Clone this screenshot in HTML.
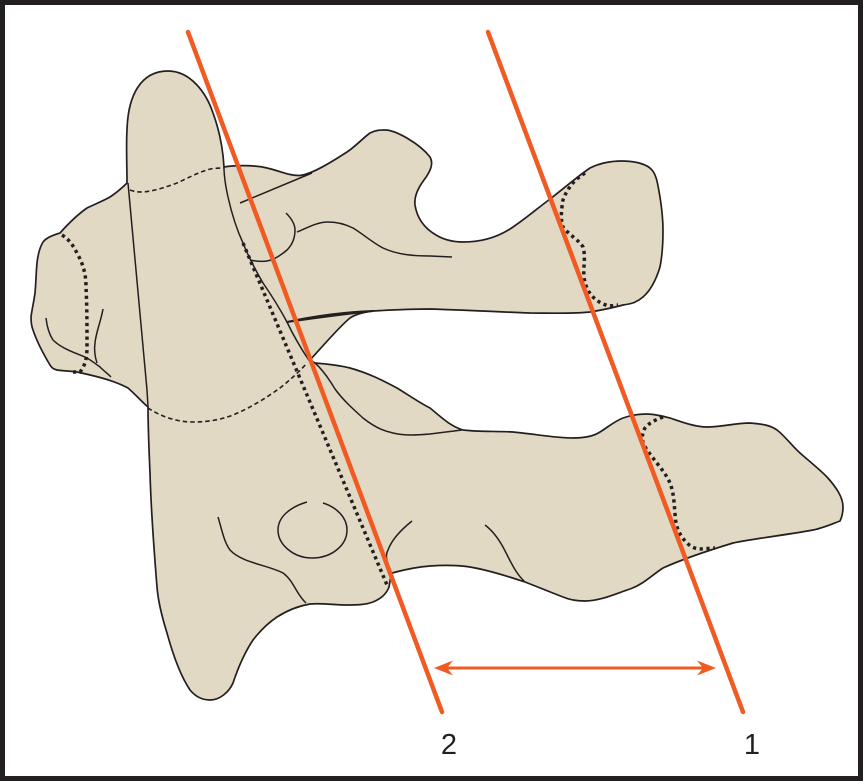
<!DOCTYPE html>
<html><head><meta charset="utf-8"><style>
html,body{margin:0;padding:0;background:#fff}
svg{display:block}
</style></head><body>
<svg width="863" height="781" viewBox="0 0 863 781" xmlns="http://www.w3.org/2000/svg">
<rect x="2.5" y="2.5" width="858" height="776" fill="#fff" stroke="#231f20" stroke-width="5"/>
<path fill="#e2d9c5" stroke="#231f20" stroke-width="1.700" stroke-linejoin="round" d="M127 183 C127 165 126 145 127 130 C128 95 141 71 168 71 C190 71 206 92 213 113 C220 132 223 150 224 167 C235 165 255 165 267 168 C280 171 290 176 300 175.500 C312 174 330 163 347 152 C356 146 363 138 370 133 C376 130 380 130 385 130 C396 130 420 144 430 157 C434 164 430 172 424 180 C418 188 414 196 415 205 C417 218 424 228 436 235 C446 241 455 242 463 242 C483 242 500 236 513 227 C525 219 538 208 550 199 C562 190 578 176 590 168 C600 163 612 161 622 161 C635 161 647 164 652 170 C657 176 658 186 660 197 C662 210 663 220 663 230 C663 245 662 257 660 267 C656 280 650 291 643 297 C636 303 630 304 623 305 C612 308 602 310 590 312 C572 314 550 313 530 313 C500 312 465 310 430 309 C410 309 390 310 373 311 C365 312 356 314 350 318 C340 326 322 347 310 360 L315 363 C328 364 338 365 350 368 C368 373 382 380 397 388 C410 396 420 403 430 408 C441 417 450 426 463 430 C478 432 495 431 513 432 C535 434 555 438 573 438 C585 438 594 436 600 432 C608 427 615 421 623 418 C631 415 640 414 647 414 C655 414 662 416 670 418 C682 422 695 427 707 427 C722 427 735 423 750 423 C762 424 770 425 777 430 C785 436 792 446 800 453 C809 461 818 468 827 477 C836 487 843 497 843 507 C843 513 842 517 840 521 C832 524 823 528 813 530 C786 535 758 538 733 543 C710 550 685 558 663 568 C652 575 644 584 630 589 C615 594 600 601 585 601 C577 601 570 600 563 597 C550 592 538 587 525 582 C507 576 488 570 470 567 C457 565 444 565 430 566 C416 567 403 570 392 573 C390 578 390 583 389 587 C386 595 380 599 373 602 C365 605 356 605 347 605 C335 605 322 603 310 604 C298 606 288 610 277 617 C268 623 260 631 253 640 C245 652 238 668 233 683 C229 692 220 700 210 700 C201 700 195 696 190 690 C180 675 173 655 167 633 C162 617 158 600 157 587 C154 550 151 510 150 473 C149 450 148 428 148 407 C142 402 135 394 128 388 C113 380 95 376 77 372 C70 371 63 371 57 370 C53 369 51 367 50 365 C44 355 37 342 33 330 C31 325 31 321 31 317 C32 309 34 301 35 293 C36 283 36 273 37 263 C38 254 40 247 43 242 C47 237 54 235 60 233 C68 224 77 215 87 208 C95 204 103 201 110 197 C116 193 122 188 127 183 Z"/>
<g fill="none" stroke="#231f20" stroke-width="1.500">
<path d="M128 183 L147 390 L148 407"/>
<path d="M224 167 C224 178 226 188 228 197 C232 215 237 230 243 243 C249 258 256 271 263 283 C272 296 280 309 287 322 C294 337 302 350 310 362"/>
<path d="M240 203 L312 173"/>
<path d="M286 213 C291 218 295 224 295 230 C295 238 292 245 287 250 C280 256 273 260 267 261 C261 262 255 261 250 260"/>
<path d="M297 232 C307 228 317 222 328 222 C337 222 345 224 353 228 C363 234 373 243 383 248 C398 255 415 256 430 256 L452 257"/>
<path d="M46 318 C47 327 49 334 53 340 C62 349 76 353 87 358 C92 361 96 364 100 367 C104 371 108 374 111 377"/>
<path d="M103 309 C101 321 96 332 95 343 C94 350 95 357 97 363"/>
<path d="M315 363 C323 370 329 379 335 389 C343 400 353 409 363 418 C373 426 382 431 393 433 C405 436 418 435 430 434 L462 430"/>
<path d="M307 502 C290 507 278 517 278 530 C278 545 294 558 312 558 C332 558 347 545 347 530 C347 517 336 507 323 503"/>
<path d="M218 517 C222 530 224 542 230 550 C242 563 268 565 283 573 C294 581 296 594 306 603"/>
<path d="M412 521 C402 529 392 539 388 550 C386 554 386 557 387 560"/>
<path d="M485 525 C493 531 498 538 503 547 C510 560 515 573 525 582"/>
</g>
<path d="M287 322 C315 316 345 312 373 311 C345 314 315 318 287 322 Z" fill="#231f20" stroke="#231f20" stroke-width="2" stroke-linejoin="round"/>
<g fill="none" stroke="#231f20" stroke-width="1.600" stroke-dasharray="4.500 3">
<path d="M130 190 C135 192 139 192 143 192 C155 191 166 187 177 183 C188 178 197 173 207 170 C213 168 219 168 224 168"/>
<path d="M148 408 C160 416 176 422 193 422 C207 422 220 420 233 415 C250 408 266 398 280 388 C290 380 299 372 307 363"/>
</g>
<g fill="none" stroke="#231f20" stroke-width="3.500" stroke-dasharray="3.200 3.600">
<path d="M62 235 C70 240 74 247 78 255 C84 266 86 276 86 287 C87 307 87 327 87 347 C87 355 86 365 80 372 L72 372"/>
<path d="M243 243 L387 585"/>
<path d="M585 173 C577 178 571 184 568 190 C564 196 562 201 562 207 C561 215 561 222 563 227 C569 235 579 240 583 247 C586 257 583 267 584 277 C585 285 588 292 593 297 C598 302 604 305 610 306 L618 305"/>
<path d="M663 417 C655 420 649 423 645 428 C642 433 642 438 643 443 C650 457 664 469 670 483 C675 496 674 510 676 523 C678 532 682 538 687 543 C691 547 696 549 700 549 L715 548"/>
</g>
<g stroke="#f15a22" stroke-width="4.500" stroke-linecap="round" fill="none">
<path d="M188 32 L442 712"/>
<path d="M488 32 L743 712"/>
</g>
<path d="M445 668 H705" stroke="#f15a22" stroke-width="3"/>
<path d="M434 668 L453 660.500 L447 668 L453 675.500 Z M716 668 L697 660.500 L703 668 L697 675.500 Z" fill="#f15a22"/>
<text x="449" y="754" font-family="'Liberation Sans',sans-serif" font-size="29" fill="#231f20" text-anchor="middle">2</text>
<text x="752" y="754" font-family="'Liberation Sans',sans-serif" font-size="29" fill="#231f20" text-anchor="middle">1</text>
</svg>
</body></html>
